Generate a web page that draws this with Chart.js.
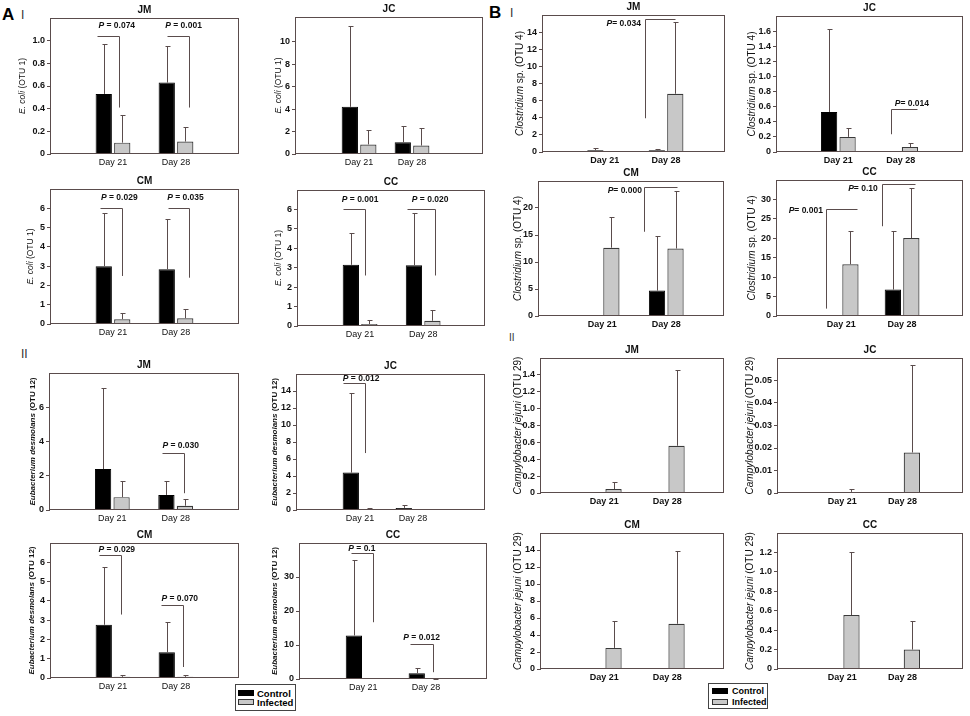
<!DOCTYPE html>
<html>
<head>
<meta charset="utf-8">
<script src="https://cdn.jsdelivr.net/npm/chart.js@4.4.1/dist/chart.umd.min.js"></script>
<style>
  body { margin: 0; background: #fff; width: 970px; height: 716px; position: relative; overflow: hidden;
         font-family: "Liberation Sans", Arial, sans-serif; color: #111; }
  canvas { position: absolute; }
  .tag { position: absolute; font-weight: bold; line-height: 1; color: #000; }
  .legend { position: absolute; border: 1px solid #444; box-sizing: border-box; background: #fff; }
  .legend .row { position: absolute; font-weight: bold; line-height: 1; white-space: nowrap; color: #000; }
  .legend .sw { position: absolute; box-sizing: border-box; }
</style>
</head>
<body>
<div class="tag" style="left:2px;top:6px;font-size:17px">A</div>
<div class="tag" style="left:21px;top:9px;font-size:12px;font-weight:normal;color:#333">I</div>
<div class="tag" style="left:21px;top:348px;font-size:12px;font-weight:normal;color:#333">II</div>
<div class="tag" style="left:489px;top:4px;font-size:17px">B</div>
<div class="tag" style="left:510px;top:7px;font-size:12px;font-weight:normal;color:#333">I</div>
<div class="tag" style="left:509px;top:333px;font-size:10px;font-weight:normal;color:#333">II</div>
<div id="legA" class="legend" style="left:235px;top:684px;width:61px;height:27px"></div>
<div id="legB" class="legend" style="left:708px;top:683px;width:60px;height:26px"></div>
<script>
// ---- data ----
// panel order: A-I JM, JC, CM, CC | A-II JM, JC, CM, CC | B-I JM, JC, CM, CC | B-II JM, JC, CM, CC
const days = ["Day 21", "Day 28"];
const seriesNames = ["Control", "Infected"];
const panelTitles = ["JM", "JC", "CM", "CC", "JM", "JC", "CM", "CC",
                     "JM", "JC", "CM", "CC", "JM", "JC", "CM", "CC"];

// y axis titles per block: [italic part, plain part]
const yTitles = [
  ["E. coli", " (OTU 1)"],
  ["Eubacterium desmolans", " (OTU 12)"],
  ["Clostridium", " sp. (OTU 4)"],
  ["Campylobacter jejuni", " (OTU 29)"]
];

// bar heights (means)
const controlMeans = [
  [0.53, 0.63], [4.2, 1.05], [3.0, 2.84], [3.15, 3.13],
  [2.39, 0.88], [4.4, 0.25], [2.76, 1.33], [12.8, 1.7],
  [0.2, 0.2], [0.53, 0.005], [0.1, 4.7], [0.1, 6.8],
  [0, 0], [0, 0], [0, 0], [0, 0]
];
const infectedMeans = [
  [0.10, 0.11], [0.85, 0.75], [0.25, 0.3], [0.1, 0.27],
  [0.75, 0.25], [0.1, 0.08], [0.06, 0.06], [0.1, 0.05],
  [0.02, 6.8], [0.2, 0.065], [12.65, 12.5], [13.3, 20.05],
  [0.047, 0.56], [0.0005, 0.018], [2.48, 5.32], [0.555, 0.2]
];
// top of the error bars (mean + SD), null = no bar drawn
const controlUpper = [
  [0.97, 0.95], [11.4, 2.5], [5.77, 5.47], [4.8, 5.8],
  [7.12, 1.7], [13.8, 0.55], [5.74, 2.9], [34.9, 3.2],
  [0.47, 0.35], [1.63, null], [null, 14.9], [null, 22],
  [null, null], [null, null], [null, null], [null, null]
];
const infectedUpper = [
  [0.34, 0.24], [2.1, 2.35], [0.59, 0.76], [0.3, 0.8],
  [1.7, 0.67], [0.2, 0.15], [0.17, 0.17], [0.2, 0.1],
  [null, 15.2], [0.32, 0.12], [18.4, 23.1], [22, 33],
  [0.13, 1.46], [0.0018, 0.0567], [5.7, 13.9], [1.2, 0.49]
];

// y axes
const yMaxes = [1.2, 12.2, 7, 7, 8, 16, 7, 40, 16, 1.8, 25, 35, 1.6, 0.06, 16, 1.4];
const yTickValues = [
  [0, 0.2, 0.4, 0.6, 0.8, 1.0], [0, 2, 4, 6, 8, 10], [0, 1, 2, 3, 4, 5, 6], [0, 1, 2, 3, 4, 5, 6],
  [0, 2, 4, 6], [0, 2, 4, 6, 8, 10, 12, 14], [0, 1, 2, 3, 4, 5, 6], [0, 10, 20, 30],
  [0, 2, 4, 6, 8, 10, 12, 14], [0, 0.2, 0.4, 0.6, 0.8, 1.0, 1.2, 1.4, 1.6], [0, 5, 10, 15, 20], [0, 5, 10, 15, 20, 25, 30],
  [0, 0.2, 0.4, 0.6, 0.8, 1.0, 1.2, 1.4], [0, 0.01, 0.02, 0.03, 0.04, 0.05], [0, 2, 4, 6, 8, 10, 12, 14], [0, 0.2, 0.4, 0.6, 0.8, 1.0, 1.2]
];
const yTickDecimals = [1, 0, 0, 0, 0, 0, 0, 0, 0, 1, 0, 0, 1, 2, 0, 1];

// x axis range (Day 21 = 1, Day 28 = 2)
const xRanges = [
  [0, 3], [-0.21, 3.34], [0, 3], [0, 2.98],
  [0, 3], [-0.21, 3.36], [0, 3], [-0.02, 2.97],
  [-0.02, 2.96], [0, 3], [0, 2.9], [-0.07, 3.0],
  [-0.02, 2.9], [-0.08, 3.0], [-0.02, 2.9], [-0.08, 3.0]
];

// P value brackets, in axis units: [label, x1, x2, top, leftLegEnd, rightLegEnd, textX, textY, align]
const pBrackets = [
  [["0.074", 0.75, 1.1, 1.04, null, 0.41, 1.06, 1.13, "center"], ["0.001", 1.86, 2.2, 1.04, null, 0.41, 2.12, 1.13, "center"]],
  [],
  [["0.029", 0.8, 1.14, 6.0, null, 2.49, 1.1, 6.56, "center"], ["0.035", 1.87, 2.21, 6.0, null, 2.4, 2.15, 6.56, "center"]],
  [["0.001", 0.73, 1.08, 6.03, null, 2.6, 1.0, 6.5, "center"], ["0.020", 1.75, 2.19, 6.03, null, 2.6, 2.11, 6.5, "center"]],
  [["0.030", 1.78, 2.13, 3.33, null, 0.98, 2.08, 3.76, "center"]],
  [["0.012", 0.68, 1.09, 14.96, null, 6.7, 1.02, 15.45, "center"]],
  [["0.029", 0.78, 1.12, 6.4, null, 3.29, 1.06, 6.66, "center"], ["0.070", 1.76, 2.11, 3.76, null, 0.57, 2.06, 4.1, "center"]],
  [["0.1", 0.81, 1.155, 37.0, null, 16.7, 0.98, 38.3, "center"], ["0.012", 1.74, 2.11, 10.3, null, 2.0, 1.93, 12.3, "center"]],
  [["0.034", 1.655, 2.15, 15.55, 3.94, null, 1.59, 14.96, "right"]],
  [["0.014", 1.85, 2.26, 0.57, 0.235, null, 2.18, 0.64, "center"]],
  [["0.000", 1.66, 2.16, 23.8, 15.6, null, 1.62, 23.3, "right"]],
  [["0.001", 0.75, 1.26, 27.6, 1.9, null, 0.7, 27.1, "right"], ["0.10", 1.67, 2.21, 33.9, 23.1, null, 1.6, 32.8, "right"]],
  [], [], [], []
];

// ---- layout: plot frame on the page [left, top, right, bottom, y-title centre x] ----
const frames = [
  [50, 18, 239, 154, 23], [295, 17, 483, 154, 279], [50, 189, 239, 324, 31], [297, 190, 485, 326, 279],
  [49, 373, 239, 510, 33], [296, 374, 485, 510, 275], [50, 543, 239, 678, 32], [299, 543, 487, 679, 275],
  [542, 15, 725, 152, 520], [776, 16, 963, 152, 752], [538, 181, 724, 316, 518], [776, 180, 963, 316, 752],
  [540, 358, 724, 493, 518], [777, 358, 963, 493, 750], [540, 533, 724, 669, 518], [777, 533, 963, 669, 750]
];
const groupStyle = [
  { yTitleSize: 8.5, yTitleBold: false, dayBold: false, pSep: " = " },
  { yTitleSize: 8, yTitleBold: true, dayBold: false, pSep: " = " },
  { yTitleSize: 10, yTitleBold: false, dayBold: true, pSep: "= " },
  { yTitleSize: 10, yTitleBold: false, dayBold: true, pSep: "= " }
];
const FONT = "'Liberation Sans', Arial, sans-serif";
const LINE = "#5a4c4c";

function fmtTick(v, dec) {
  return v === 0 ? "0" : v.toFixed(dec);
}

// draws a sequence of [text, font] pieces starting at x
function mixedText(ctx, parts, x, y, align) {
  let total = 0;
  parts.forEach(p => { ctx.font = p[1]; total += ctx.measureText(p[0]).width; });
  let cx = align === "right" ? x - total : align === "center" ? x - total / 2 : x;
  ctx.textAlign = "left";
  parts.forEach(p => { ctx.font = p[1]; ctx.fillText(p[0], cx, y); cx += ctx.measureText(p[0]).width; });
}

const decorPlugin = {
  id: "decor",
  afterDatasetsDraw(chart, args, opts) {
    const idx = opts.idx;
    const st = groupStyle[Math.floor(idx / 4)];
    const ctx = chart.ctx, a = chart.chartArea;
    const xs = chart.scales.x, ys = chart.scales.y;
    ctx.save();
    ctx.strokeStyle = LINE;
    ctx.lineWidth = 1;

    // error bars (upper only)
    const uppers = [controlUpper[idx], infectedUpper[idx]];
    [0, 1].forEach(d => {
      chart.getDatasetMeta(d).data.forEach((bar, i) => {
        const u = uppers[d][i];
        if (u == null) return;
        const x = Math.round(bar.x) + 0.5;
        const y1 = Math.round(ys.getPixelForValue(u)) + 0.5;
        ctx.beginPath();
        ctx.moveTo(x, bar.y);
        ctx.lineTo(x, y1);
        ctx.moveTo(x - 2, y1);
        ctx.lineTo(x + 3, y1);
        ctx.stroke();
      });
    });

    // P value brackets
    ctx.fillStyle = "#111";
    ctx.textBaseline = "middle";
    pBrackets[idx].forEach(b => {
      const [label, x1, x2, top, leg1, leg2, tx, ty, align] = b;
      const px1 = Math.round(xs.getPixelForValue(x1)) + 0.5;
      const px2 = Math.round(xs.getPixelForValue(x2)) + 0.5;
      const py = Math.round(ys.getPixelForValue(top)) + 0.5;
      ctx.beginPath();
      ctx.moveTo(px1, py);
      ctx.lineTo(px2, py);
      if (leg1 != null) { ctx.moveTo(px1, py); ctx.lineTo(px1, ys.getPixelForValue(leg1)); }
      if (leg2 != null) { ctx.moveTo(px2, py); ctx.lineTo(px2, ys.getPixelForValue(leg2)); }
      ctx.stroke();
      mixedText(ctx, [["P", "italic bold 8.5px " + FONT], [st.pSep + label, "bold 8.5px " + FONT]],
        xs.getPixelForValue(tx), ys.getPixelForValue(ty), align);
    });

    // frame
    ctx.strokeStyle = LINE;
    ctx.strokeRect(a.left + 0.5, a.top + 0.5, a.right - a.left - 1, a.bottom - a.top - 1);

    // panel title
    ctx.font = "bold 10px " + FONT;
    ctx.textAlign = "center";
    ctx.fillText(panelTitles[idx], (a.left + a.right) / 2, a.top - 8);

    // y axis title with italic species name
    const yt = yTitles[Math.floor(idx / 4)];
    const w = st.yTitleBold ? "bold " : "";
    ctx.translate(8, (a.top + a.bottom) / 2);
    ctx.rotate(-Math.PI / 2);
    mixedText(ctx, [[yt[0], "italic " + w + st.yTitleSize + "px " + FONT], [yt[1], w + st.yTitleSize + "px " + FONT]], 0, 0, "center");
    ctx.restore();
  }
};

frames.forEach((f, idx) => {
  const [L, T, R, B, titleX] = f;
  const st = groupStyle[Math.floor(idx / 4)];
  const cl = titleX - 8, ct = T - 18;
  const xAxisH = 17, padBottom = 6;
  const cw = R - cl + 3, ch = B - ct + xAxisH + padBottom;
  const axisW = L - cl;
  const [xmin, xmax] = xRanges[idx];
  const pxPerDay = (R - L) / (xmax - xmin);
  const catPct = 37 / pxPerDay;

  const cv = document.createElement("canvas");
  cv.width = cw; cv.height = ch;
  cv.style.left = cl + "px"; cv.style.top = ct + "px";
  cv.style.width = cw + "px"; cv.style.height = ch + "px";
  document.body.appendChild(cv);

  new Chart(cv.getContext("2d"), {
    type: "bar",
    data: {
      datasets: [
        { label: seriesNames[0], data: controlMeans[idx].map((v, i) => ({ x: i + 1, y: v })),
          backgroundColor: "#000", borderColor: "#000", borderWidth: 1,
          categoryPercentage: catPct, barPercentage: 0.88 },
        { label: seriesNames[1], data: infectedMeans[idx].map((v, i) => ({ x: i + 1, y: v })),
          backgroundColor: "#c8c8c8", borderColor: "#3a3a3a", borderWidth: 1.2,
          categoryPercentage: catPct, barPercentage: 0.88 }
      ]
    },
    options: {
      responsive: false,
      animation: false,
      events: [],
      layout: { autoPadding: false, padding: { left: 0, top: 18, right: 3, bottom: padBottom } },
      plugins: { legend: { display: false }, title: { display: false }, tooltip: { enabled: false }, decor: { idx: idx } },
      scales: {
        x: {
          type: "linear", min: xmin, max: xmax, offset: false,
          afterBuildTicks: s => { s.ticks = [{ value: 1 }, { value: 2 }]; },
          afterFit: s => { s.height = xAxisH; },
          grid: { display: false, drawTicks: false, tickLength: 0 }, border: { display: false },
          ticks: { callback: v => days[v - 1], autoSkip: false, maxRotation: 0, padding: 3, color: "#111",
                   font: { family: FONT, size: 9, weight: st.dayBold ? "bold" : "normal" } }
        },
        y: {
          min: 0, max: yMaxes[idx],
          afterBuildTicks: s => { s.ticks = yTickValues[idx].map(v => ({ value: v })); },
          afterFit: s => { s.width = axisW; },
          grid: { drawOnChartArea: false, tickLength: 3, color: LINE },
          border: { display: true, color: LINE },
          ticks: { callback: v => fmtTick(v, yTickDecimals[idx]), padding: 2, color: "#111",
                   font: { family: FONT, size: 9, weight: "bold" } }
        }
      }
    },
    plugins: [decorPlugin]
  });
});

// legends (HTML boxes)
function buildLegend(id, swLeft, textLeft, rows, fontCss) {
  const box = document.getElementById(id);
  seriesNames.forEach((name, i) => {
    const sw = document.createElement("div");
    sw.className = "sw";
    sw.style.cssText = "left:" + swLeft + "px;top:" + (rows[i] - 3) + "px;width:16px;height:6px;" +
      (i === 0 ? "background:#000" : "background:#c8c8c8;border:1px solid #333");
    box.appendChild(sw);
    const t = document.createElement("div");
    t.className = "row";
    t.textContent = name;
    t.style.cssText = "left:" + textLeft + "px;top:" + (rows[i] - 5) + "px;font:" + fontCss;
    box.appendChild(t);
  });
}
buildLegend("legA", 2, 21, [8, 17], "bold 9.5px " + FONT);
buildLegend("legB", 3, 23, [7, 18], "bold 9px 'Liberation Sans Narrow', " + FONT);
</script>
</body>
</html>
